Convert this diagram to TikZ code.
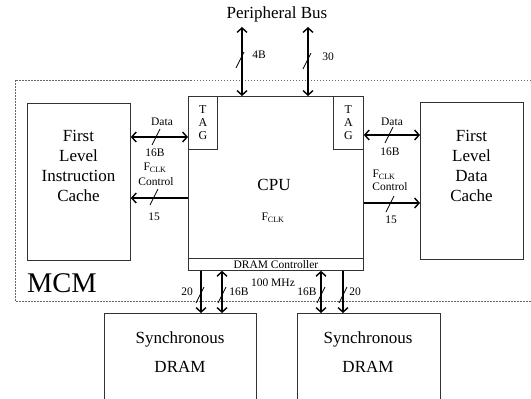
\documentclass[tikz,border=0pt]{standalone}
\usepackage{fontspec}
\setmainfont{Liberation Serif}
\usetikzlibrary{arrows.meta}

\tikzset{
  unit/.style={draw=black!80,line width=0.8pt,inner sep=0pt},
  bus/.style={line width=1.4pt,>={Straight Barb[length=4.5pt,width=10pt]}},
  slash/.style={line width=0.7pt},
  big/.style={font=\fontsize{17}{20}\selectfont,align=center,inner sep=0pt},
  small/.style={font=\fontsize{11.5}{13}\selectfont,inner sep=0pt},
  tagtxt/.style={font=\fontsize{12}{13}\selectfont,align=center},
}
\newcommand{\fclk}{F\textsubscript{CLK}}

\begin{document}
\begin{tikzpicture}[x=1pt,y=-1pt]
\clip (0,0) rectangle (531,399);
% MCM border
\draw[black!60,line width=0.7pt,dash pattern=on 1.5pt off 1.5pt] (540,80) -- (15,80) -- (15,301) -- (540,301);
\node[font=\fontsize{28.5}{30}\selectfont,inner sep=0pt] (mcm) at (62,283) {MCM};

% CPU with tags and DRAM controller
\node[unit,minimum width=175pt,minimum height=174pt,anchor=north west] (cpu) at (188,96) {};
\node[unit,small,minimum width=175pt,minimum height=12pt,anchor=south west] (ctrl) at (cpu.south west) {DRAM Controller};
\node[unit,tagtxt,minimum width=29pt,minimum height=53pt,anchor=north west] (ltag) at (cpu.north west) {T\\A\\G};
\node[unit,tagtxt,minimum width=30pt,minimum height=53pt,anchor=north east] (rtag) at (cpu.north east) {T\\A\\G};
\node[big] (cpulbl) at (274,185) {CPU};
\node[small] (cpuclk) at (273,218) {\fclk};

% caches
\node[unit,minimum width=103pt,minimum height=157pt,anchor=north west] (icache) at (27,103) {};
\node[big] (icachetxt) at (78.5,166) {First\\Level\\Instruction\\Cache};
\node[unit,minimum width=103pt,minimum height=157pt,anchor=north west] (dcache) at (420,102) {};
\node[big] (dcachetxt) at (471.5,166) {First\\Level\\Data\\Cache};

% SDRAM
\node[unit,minimum width=152pt,minimum height=100pt,anchor=north west] (sdramA) at (104,313) {};
\node[big,font=\fontsize{17}{29}\selectfont] (sdramAtxt) at (180,352) {Synchronous\\DRAM};
\node[unit,minimum width=143pt,minimum height=100pt,anchor=north west] (sdramB) at (297,313) {};
\node[big,font=\fontsize{17}{29}\selectfont] (sdramBtxt) at (368,352) {Synchronous\\DRAM};

% peripheral bus
\node[big] (pbus) at (277,14) {Peripheral Bus};
\coordinate (pbA) at (242,27);
\coordinate (pbB) at (308,27);
\draw[bus,<->] (pbA) -- (pbA |- cpu.north);
\draw[bus,<->] (pbB) -- (pbB |- cpu.north);

% buses
\draw[bus,<->] (icache.east |- 0,137) -- (cpu.west |- 0,137);
\draw[bus,->] (cpu.west |- 0,198) -- (icache.east |- 0,198);
\draw[bus,<->] (cpu.east |- 0,135) -- (dcache.west |- 0,135);
\draw[bus,->] (cpu.east |- 0,203) -- (dcache.west |- 0,203);
\draw[bus,->] (ctrl.south -| 201,0) -- (sdramA.north -| 201,0);
\draw[bus,<->] (ctrl.south -| 222,0) -- (sdramA.north -| 222,0);
\draw[bus,<->] (ctrl.south -| 321,0) -- (sdramB.north -| 321,0);
\draw[bus,->] (ctrl.south -| 343,0) -- (sdramB.north -| 343,0);

\foreach \sx/\sy in {240/60,307/61,156/137,154/197,389/135,390/204,200/295,222/295,321/295,343/295}
{
    \draw[slash] (\sx-4,\sy+8) -- (\sx+4,\sy-8);
}

% labels
\node[small] (lbl4b) at (259,55) {4B};
\node[small] (lbl30) at (328,57) {30};
\node[small] (ldata) at (162,122) {Data};
\node[small] (ldataw) at (155,153) {16B};
\node[small] (lclk) at (155,168) {\fclk};
\node[small] (lctl) at (156,182) {Control};
\node[small] (lctlw) at (154,217) {15};
\node[small] (rdata) at (392,122) {Data};
\node[small] (rdataw) at (390,152) {16B};
\node[small] (rclk) at (384,175) {\fclk};
\node[small] (rctl) at (390,187) {Control};
\node[small] (rctlw) at (391,220) {15};
\node[small] (bAw) at (187,292) {20};
\node[small] (bBw) at (239,292) {16B};
\node[small] (bfreq) at (273,283) {100 MHz};
\node[small] (bCw) at (307,292) {16B};
\node[small] (bDw) at (355,292) {20};
\end{tikzpicture}
\end{document}
